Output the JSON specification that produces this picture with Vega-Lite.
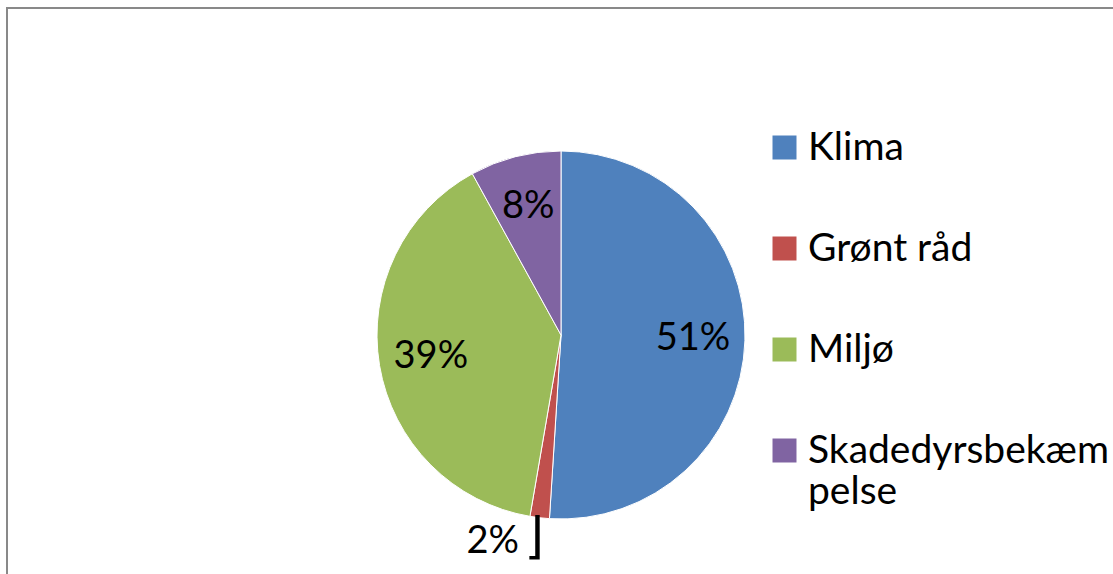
{
  "$schema": "https://vega.github.io/schema/vega-lite/v6.json",
  "width": 1108,
  "height": 654,
  "autosize": {"type": "none"},
  "padding": {"left": 7, "top": 8, "right": 0, "bottom": 0},
  "background": "white",
  "view": {"stroke": "#898989", "strokeWidth": 2, "fill": "white"},
  "config": {
    "view": {"stroke": "#898989", "strokeWidth": 2},
    "font": "Lato"
  },
  "data": {
    "values": [
      {"nr": 1, "kategori": "Klima", "andel": 0.51},
      {"nr": 2, "kategori": "Grønt råd", "andel": 0.017},
      {"nr": 3, "kategori": "Miljø", "andel": 0.393},
      {"nr": 4, "kategori": "Skadedyrsbekæmpelse", "andel": 0.08}
    ]
  },
  "encoding": {
    "theta": {"field": "andel", "type": "quantitative", "stack": true},
    "order": {"field": "nr", "type": "quantitative"}
  },
  "layer": [
    {
      "mark": {"type": "arc", "outerRadius": 184, "stroke": "white", "strokeWidth": 1},
      "encoding": {
        "color": {
          "field": "kategori",
          "type": "nominal",
          "scale": {
            "domain": ["Klima", "Grønt råd", "Miljø", "Skadedyrsbekæmpelse"],
            "range": ["#4F81BD", "#C0504D", "#9BBB59", "#8064A2"]
          },
          "legend": {
            "title": null,
            "orient": "none",
            "legendX": 758,
            "legendY": 120,
            "symbolType": "square",
            "symbolSize": 576,
            "symbolStrokeWidth": 0,
            "symbolOpacity": 1,
            "labelFont": "Lato",
            "labelFontSize": 39,
            "labelColor": "black",
            "labelOffset": 4,
            "labelLimit": 500,
            "rowPadding": 61,
            "labelExpr": "datum.label === 'Skadedyrsbekæmpelse' ? ['Skadedyrsbekæm', 'pelse'] : datum.label",
            "encode": {"labels": {"update": {"lineHeight": {"value": 50}}}}
          }
        }
      }
    },
    {
      "mark": {"type": "text", "radius": 132, "fontSize": 38, "font": "Lato", "color": "black"},
      "encoding": {
        "text": {
          "condition": {"test": "datum.kategori === 'Grønt råd'", "value": ""},
          "field": "andel",
          "type": "quantitative",
          "format": ".0%"
        }
      }
    },
    {
      "mark": {"type": "text", "radius": 208, "fontSize": 38, "font": "Lato", "color": "black", "align": "right", "dx": -18},
      "encoding": {
        "text": {
          "condition": {"test": "datum.kategori !== 'Grønt råd'", "value": ""},
          "field": "andel",
          "type": "quantitative",
          "format": ".0%"
        }
      }
    },
    {
      "mark": {"type": "text", "radius": 204, "fontSize": 50, "font": "DejaVu Sans", "color": "black", "dx": -3},
      "encoding": {
        "text": {
          "condition": {"test": "datum.kategori === 'Grønt råd'", "value": "⌋"},
          "value": ""
        }
      }
    }
  ]
}
